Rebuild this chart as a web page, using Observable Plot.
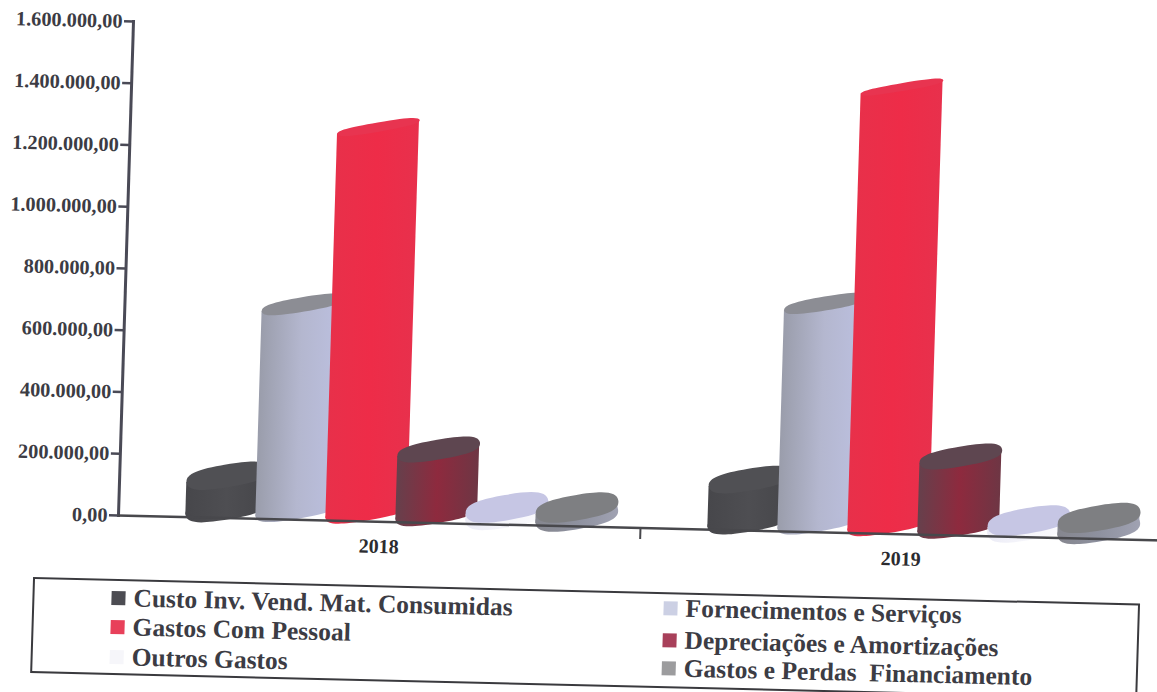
<!DOCTYPE html>
<html lang="pt">
<head>
<meta charset="utf-8">
<title>Gastos 2018-2019</title>
<script src="https://cdn.jsdelivr.net/npm/d3@7"></script>
<script src="https://cdn.jsdelivr.net/npm/@observablehq/plot@0.6"></script>
<style>
  html, body { margin: 0; padding: 0; background: #fff; overflow: hidden; }
  #sheet {
    position: absolute; left: 0; top: 0; width: 1162px;
    transform-origin: 0 0;
    transform: matrix(1, 0.024, -0.0304, 1, 15.66, -2.83);
    font-family: "Liberation Serif", serif; font-weight: bold; color: #3c3c44;
  }
  #sheet svg { display: block; overflow: visible; }
  #legend {
    position: relative; margin: 19px 0 0 35px; width: 1107px; height: 96px;
    box-sizing: border-box; border: 2px solid #3a3a3e; font-size: 25.5px; line-height: 28px;
  }
  #legend div { position: absolute; white-space: pre; }
  #legend i { position: absolute; width: 14px; height: 14px; left: -22px; top: 7px; }
</style>
</head>
<body>
<div id="sheet"></div>
<script>
const years = ["2018", "2019"];
const categories = [
  "Custo Inv. Vend. Mat. Consumidas",
  "Fornecimentos e Serviços",
  "Gastos Com Pessoal",
  "Depreciações e Amortizações",
  "Outros Gastos",
  "Gastos e Perdas  Financiamento"
];
const values2018 = [105000, 665000, 1245000, 206000, 24000, 29000];
const values2019 = [133000, 709000, 1415000, 224000, 22000, 36000];

// Shading per category: body gradient stops and the flat colour of the top cap.
const bodyStops = [
  ["#47474b", "#4e4e52", "#46464a"],
  ["#9a9dab", "#b4b7cf", "#bcc0e0"],
  ["#e8304a", "#ee2c48", "#e8304c"],
  ["#66404c", "#8e2a3e", "#6e3644"],
  ["#ececf6", "#f6f6fb", "#fbfbfd"],
  ["#85868e", "#8e919f", "#a0a2b2"]
];
const capColors = ["#505054", "#8c8d94", "#e83450", "#5e4650", "#c6c6e4", "#7e7f82"];
const swatchColors = ["#4c4c52", "#ccd0e4", "#e8405a", "#a8405a", "#f6f6fa", "#9c9c9e"];

const rows = years.flatMap((year, i) =>
  categories.map((category, c) => ({
    year, category, c, value: (i ? values2019 : values2018)[c]
  }))
);

const formatPt = d3.formatLocale({decimal: ",", thousands: ".", grouping: [3], currency: ["", ""]}).format(",.2f");

// Cylinders lean in a shallow perspective; short ones show more of their cap.
const tiltDeg = 11;
const halfWidth = 41;
const bandHalf = 35.25;
const capOpening = d3.scaleLinear().domain([0, 200000, 700000, 1400000]).range([13, 10, 7, 4]);

function ellipseSymbol(ry) {
  const t = tiltDeg * Math.PI / 180;
  const rx = halfWidth / Math.cos(t);
  const k = 0.72; // fuller than a true ellipse, for softly rounded ends
  const p = (x, y) => [x * Math.cos(t) + y * Math.sin(t), -x * Math.sin(t) + y * Math.cos(t)];
  return {
    draw(ctx) {
      ctx.moveTo(...p(rx, 0));
      ctx.bezierCurveTo(...p(rx, k * ry), ...p(k * rx, ry), ...p(0, ry));
      ctx.bezierCurveTo(...p(-k * rx, ry), ...p(-rx, k * ry), ...p(-rx, 0));
      ctx.bezierCurveTo(...p(-rx, -k * ry), ...p(-k * rx, -ry), ...p(0, -ry));
      ctx.bezierCurveTo(...p(k * rx, -ry), ...p(rx, -k * ry), ...p(rx, 0));
      ctx.closePath();
    }
  };
}

// Short downward stroke marking the boundary between the two years.
const boundaryTick = {draw(ctx) { ctx.moveTo(0, 0); ctx.lineTo(0, 11); }};

function gradients() {
  const defs = d3.create("svg:defs");
  bodyStops.forEach((stops, c) => {
    const g = defs.append("linearGradient").attr("id", `body${c}`);
    stops.forEach((color, s) => g.append("stop").attr("offset", `${s * 50}%`).attr("stop-color", color));
  });
  return defs.node();
}

function leanBars(index, scales, values, dimensions, context, next) {
  const g = next(index, scales, values, dimensions, context);
  d3.select(g).selectAll("rect").attr("transform", function () {
    const cx = +this.getAttribute("x") + this.getAttribute("width") / 2;
    return `translate(${cx},0) skewY(${-tiltDeg}) translate(${-cx},0)`;
  });
  return g;
}

const baseLift = -10;
const cylinderMarks = rows
  .slice()
  .sort((a, b) => a.c - b.c)
  .flatMap((row) => {
    const ry = capOpening(row.value);
    const common = {x: "category", fx: "year", dy: baseLift};
    return [
      Plot.dot([row], {
        ...common, y: () => 0, stroke: "none",
        fill: `url(#body${row.c})`, symbol: ellipseSymbol(Math.max(ry, 9)), r: 1
      }),
      Plot.barY([row], {
        ...common, y: "value", fill: `url(#body${row.c})`,
        insetLeft: bandHalf - halfWidth, insetRight: bandHalf - halfWidth, render: leanBars
      }),
      Plot.dot([row], {
        ...common, y: "value", stroke: "none",
        fill: capColors[row.c], symbol: ellipseSymbol(ry), r: 1
      })
    ];
  });

const chart = Plot.plot({
  width: 1162,
  height: 560,
  marginLeft: 118,
  marginRight: 0,
  marginTop: 21,
  marginBottom: 45,
  style: {fontFamily: "'Liberation Serif', serif", background: "transparent", overflow: "visible"},
  x: {domain: categories, axis: null, paddingInner: 0, paddingOuter: 0.70, align: 0.717},
  fx: {domain: years, padding: 0, label: null},
  y: {domain: [0, 1600000], label: null},
  marks: [
    gradients,
    ...cylinderMarks,
    Plot.frame({anchor: "left", facet: "super", stroke: "#4a4a56", strokeWidth: 3}),
    Plot.frame({anchor: "bottom", facet: "super", stroke: "#48484c", strokeWidth: 2.5}),
    Plot.dot([years[0]], {
      fx: (d) => d, y: () => 0, frameAnchor: "right",
      symbol: boundaryTick, r: 1, stroke: "#48484c", strokeWidth: 2
    }),
    Plot.axisY({
      ticks: d3.range(0, 1600001, 200000), tickFormat: formatPt, label: null,
      tickSize: 9, tickPadding: 2, fontSize: 20.3, fontWeight: "bold",
      stroke: "#4a4a56", strokeWidth: 2.5, fill: "#3c3c44", textStroke: "none"
    }),
    Plot.axisFx({
      anchor: "bottom", label: null, tickSize: 0, tickPadding: 17,
      fontSize: 20, fontWeight: "bold", fill: "#2c2c30"
    })
  ]
});

const sheet = document.getElementById("sheet");
sheet.appendChild(chart);

// Legend box under the plot, two columns of three entries.
const legend = document.createElement("div");
legend.id = "legend";
const slots = [
  [99, 3], [651, 0], [99, 32], [651, 32], [99, 62], [651, 60]
];
const order = [0, 1, 2, 3, 4, 5];
order.forEach((c, n) => {
  const item = document.createElement("div");
  item.style.left = slots[n][0] + "px";
  item.style.top = slots[n][1] + "px";
  item.textContent = categories[c];
  const swatch = document.createElement("i");
  swatch.style.background = swatchColors[c];
  item.appendChild(swatch);
  legend.appendChild(item);
});
sheet.appendChild(legend);
</script>
</body>
</html>
